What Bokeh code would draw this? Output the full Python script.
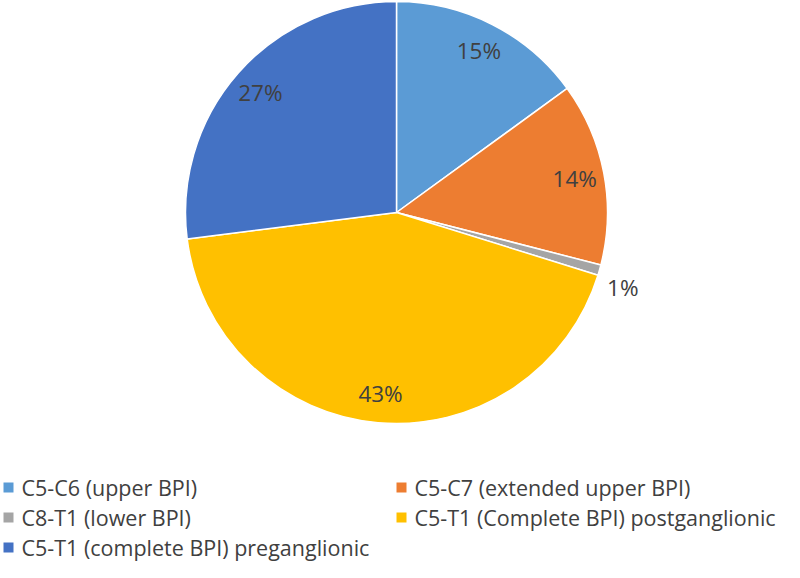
import math
from bokeh.plotting import figure
from bokeh.models import Range1d, ColumnDataSource
from bokeh.core.properties import value
from bokeh.embed import file_html
from bokeh.resources import INLINE

categories = ["C5-C6 (upper BPI)", "C5-C7 (extended upper BPI)", "C8-T1 (lower BPI)",
              "C5-T1 (Complete BPI) postganglionic", "C5-T1 (complete BPI) preganglionic"]
shares = [15.0, 14.0, 0.8, 43.2, 27.0]
pct_labels = ["15%", "14%", "1%", "43%", "27%"]
colors = ["#5B9BD5", "#ED7D31", "#A5A5A5", "#FFC000", "#4472C4"]

W, H = 784, 562
FONT = "Open Sans"
TXT = "#404040"

# data coordinates: x = picture pixel x, y = 578 - picture pixel y
p = figure(width=W, height=H, output_backend="svg", toolbar_location=None,
           x_range=Range1d(0, W), y_range=Range1d(578 - H, 578), min_border=0)
p.axis.visible = False
p.grid.visible = False
p.outline_line_color = None
p.background_fill_color = "white"

def Y(py):
    return 578 - py

cx, cy, r = 396, Y(212), 211
total = sum(shares)
starts, ends, lx, ly = [], [], [], []
cum = 0.0
for s in shares:
    a0 = math.pi / 2 - 2 * math.pi * cum / total
    cum += s
    a1 = math.pi / 2 - 2 * math.pi * cum / total
    starts.append(a0)
    ends.append(a1)
    mid = (a0 + a1) / 2
    if s / total < 0.03:
        mid -= math.radians(2.5)
        f = 1.13
    else:
        f = 0.86
    lx.append(cx + r * f * math.cos(mid))
    ly.append(cy + r * f * math.sin(mid))

src = ColumnDataSource(dict(start=starts, end=ends, color=colors, lx=lx, ly=ly, lab=pct_labels))
p.wedge(x=cx, y=cy, radius=r, start_angle="start", end_angle="end", direction="clock",
        fill_color="color", line_color="white", line_width=1.5, source=src)
p.text(x="lx", y="ly", text="lab", source=src, text_align="center", text_baseline="middle",
       text_font=value(FONT), text_font_size="22.5px", text_color=TXT)

# legend, two columns, row-major
col_x = [8, 401]
row_y = [487, 517, 547]
mx, my, tx = [], [], []
for i, c in enumerate(categories):
    col, row = i % 2, i // 2
    mx.append(col_x[col])
    my.append(Y(row_y[row]))
    tx.append(col_x[col] + 13)
lsrc = ColumnDataSource(dict(mx=mx, my=my, tx=tx, color=colors, lab=categories))
p.scatter(x="mx", y="my", marker="square", size=10, fill_color="color", line_color=None, source=lsrc)
p.text(x="tx", y="my", text="lab", source=lsrc, text_align="left", text_baseline="middle",
       text_font=value(FONT), text_font_size="21.5px", text_color=TXT)

open("out.html", "w").write(file_html(p, INLINE))
